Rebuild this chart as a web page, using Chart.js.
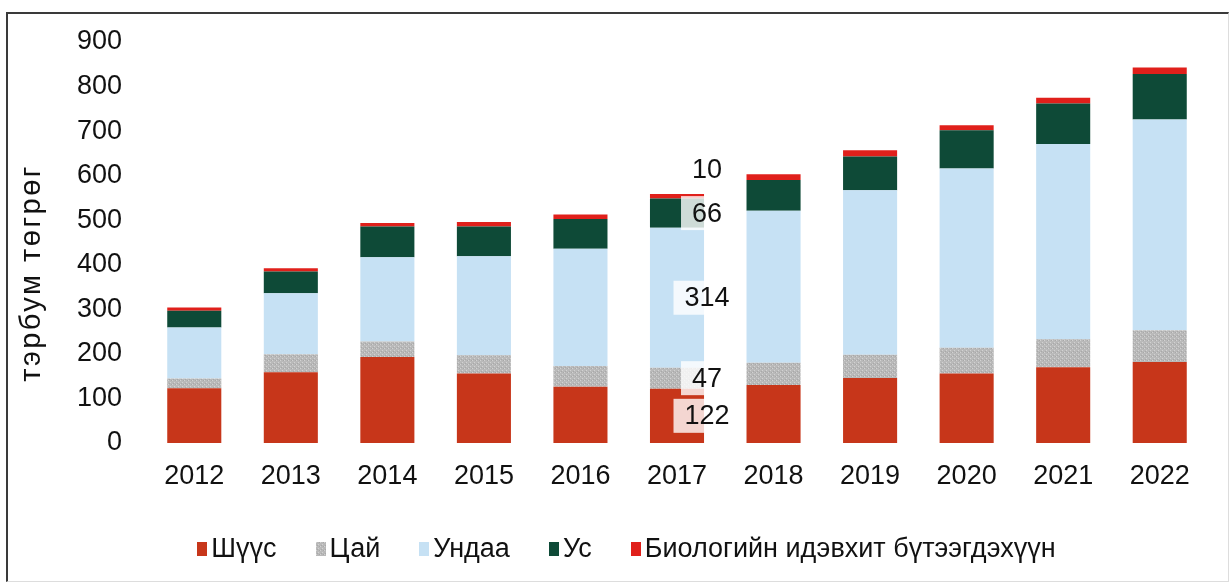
<!DOCTYPE html>
<html>
<head>
<meta charset="utf-8">
<title>Ундааны үйлдвэрлэл</title>
<script src="https://cdn.jsdelivr.net/npm/chart.js@4.4.1/dist/chart.umd.min.js"></script>
<style>
  html, body { margin: 0; padding: 0; background: #fff; }
  #wrap { position: relative; width: 1231px; height: 585px; overflow: hidden; }
  #chart { position: absolute; left: 0; top: 0; }
  #frame {
    position: absolute; left: 6px; top: 12px; width: 1220px; height: 567px;
    border-top: 2px solid #3a3a3a; border-left: 2px solid #3a3a3a;
    border-right: 1px solid #ddd; border-bottom: 1px solid #ddd;
    pointer-events: none;
  }
  #legend {
    position: absolute; top: 533px; left: 22px; width: 1209px;
    display: flex; justify-content: center;
    font: 27px "Liberation Sans", Arial, sans-serif; color: #111;
  }
  .item { display: flex; align-items: center; margin: 0 19.5px; }
  .sw { width: 10px; height: 14px; margin-right: 4px; }
</style>
</head>
<body>
<div id="wrap">
  <canvas id="chart" width="1231" height="585"></canvas>
  <div id="frame"></div>
  <div id="legend"></div>
</div>
<script>
// тэрбум төгрөг
const years = ['2012', '2013', '2014', '2015', '2016', '2017', '2018', '2019', '2020', '2021', '2022'];
const seriesNames = ['Шүүс', 'Цай', 'Ундаа', 'Ус', 'Биологийн идэвхит бүтээгдэхүүн'];
const juice = [123, 159, 193, 156, 126, 122, 130, 146, 156, 170, 182];
const tea   = [22, 40, 35, 41, 47, 47, 50, 52, 58, 63, 71];
const soft  = [114, 137, 189, 222, 263, 314, 341, 369, 402, 438, 473];
const water = [38, 49, 69, 67, 67, 66, 69, 76, 86, 91, 102];
const bio   = [7, 7, 8, 10, 10, 10, 13, 14, 11, 13, 15];
const yTicks = [0, 100, 200, 300, 400, 500, 600, 700, 800, 900];
const labelYear = '2017';
const yTitle = 'тэрбум төгрөг';

const FONT = '"Liberation Sans", Arial, sans-serif';
const FSIZE = 27;

// speckled grey fill for the tea series
function teaPattern() {
  const c = document.createElement('canvas');
  c.width = 4; c.height = 4;
  const g = c.getContext('2d');
  g.fillStyle = '#b9b9b9';
  g.fillRect(0, 0, 4, 4);
  g.fillStyle = '#d2d2d2';
  g.fillRect(0, 0, 1, 1);
  g.fillRect(2, 2, 1, 1);
  g.fillStyle = '#a8a8a8';
  g.fillRect(3, 0, 1, 1);
  g.fillRect(1, 3, 1, 1);
  return c;
}
const teaTile = teaPattern();
const teaFill = document.createElement('canvas').getContext('2d').createPattern(teaTile, 'repeat');

const colors = ['#c7361a', teaFill, '#c6e1f4', '#0e4a37', '#e0201b'];
const values = [juice, tea, soft, water, bio];

const datasets = seriesNames.map((name, i) => ({
  label: name,
  data: values[i],
  backgroundColor: colors[i],
  borderWidth: 0,
  barPercentage: 0.56,
  categoryPercentage: 1.0
}));

// value labels on one year's stack
const yearLabels = {
  id: 'yearLabels',
  afterDatasetsDraw(chart) {
    const idx = years.indexOf(labelYear);
    const ctx = chart.ctx;
    const n = chart.data.datasets.length;
    ctx.save();
    ctx.font = FSIZE + 'px ' + FONT;
    ctx.textAlign = 'center';
    ctx.textBaseline = 'middle';
    chart.data.datasets.forEach((ds, i) => {
      const bar = chart.getDatasetMeta(i).data[idx];
      const txt = String(ds.data[idx]);
      const x = bar.x + bar.width / 2 + 3;
      let y;
      if (i === n - 1) {
        y = bar.y - 24;
      } else {
        y = (bar.y + bar.base) / 2;
        const w = ctx.measureText(txt).width + 22;
        ctx.fillStyle = 'rgba(255,255,255,0.8)';
        ctx.fillRect(x - w / 2, y - 17, w, 34);
      }
      ctx.fillStyle = '#111';
      ctx.fillText(txt, x, y + 1);
    });
    ctx.restore();
  }
};

// rotated y axis caption
const axisCaption = {
  id: 'axisCaption',
  afterDraw(chart) {
    const ctx = chart.ctx;
    ctx.save();
    ctx.translate(32, 273);
    ctx.rotate(-Math.PI / 2);
    ctx.font = '29px ' + FONT;
    ctx.letterSpacing = '2.5px';
    ctx.fillStyle = '#111';
    ctx.textAlign = 'center';
    ctx.textBaseline = 'middle';
    ctx.fillText(yTitle, 0, 0);
    ctx.restore();
  }
};

new Chart('chart', {
  type: 'bar',
  data: { labels: years, datasets: datasets },
  options: {
    responsive: false,
    animation: false,
    devicePixelRatio: 1,
    layout: { padding: { left: 0, right: 23, top: 42, bottom: 82 } },
    plugins: {
      legend: { display: false },
      tooltip: { enabled: false }
    },
    scales: {
      x: {
        stacked: true,
        grid: { display: false, drawTicks: false },
        border: { display: false },
        ticks: { color: '#111', font: { family: FONT, size: FSIZE }, padding: 17, maxRotation: 0 },
        afterFit(scale) { scale.height = 60; }
      },
      y: {
        stacked: true,
        min: yTicks[0],
        max: yTicks[yTicks.length - 1],
        grid: { display: false, drawTicks: false },
        border: { display: false },
        ticks: { stepSize: yTicks[1] - yTicks[0], color: '#111', font: { family: FONT, size: FSIZE }, padding: 24 },
        afterFit(scale) { scale.width = 146; }
      }
    }
  },
  plugins: [yearLabels, axisCaption]
});

// legend row
const legend = document.getElementById('legend');
seriesNames.forEach((name, i) => {
  const item = document.createElement('div');
  item.className = 'item';
  const sw = document.createElement('span');
  sw.className = 'sw';
  if (i === 1) {
    sw.style.backgroundImage = 'url(' + teaTile.toDataURL() + ')';
  } else {
    sw.style.background = colors[i];
  }
  item.appendChild(sw);
  item.appendChild(document.createTextNode(name));
  legend.appendChild(item);
});
</script>
</body>
</html>
